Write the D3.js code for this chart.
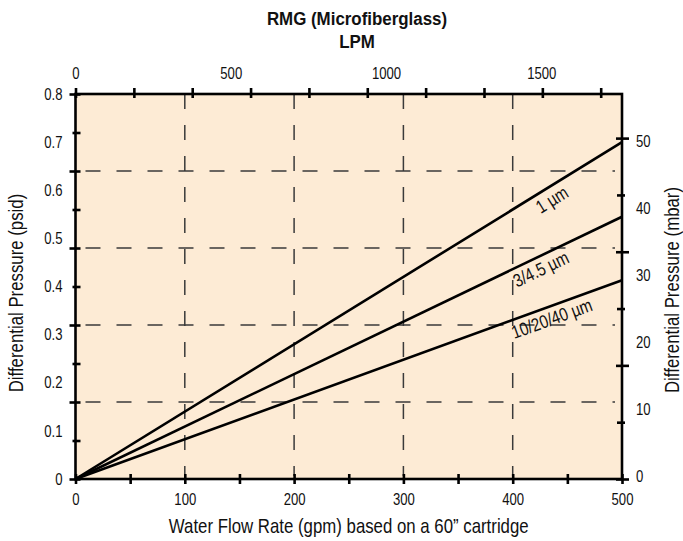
<!DOCTYPE html>
<html>
<head>
<meta charset="utf-8">
<script src="https://cdn.jsdelivr.net/npm/d3@7"></script>
<style>
  body { margin: 0; background: #ffffff; }
  svg text { font-family: "Liberation Sans", Arial, Helvetica, sans-serif; fill: #111; }
</style>
</head>
<body>
<svg id="chart" width="683" height="541"></svg>
<script>
// Pressure drop vs. flow for RMG microfiberglass cartridges (60" length)
const flowGpm = [0, 500];
const seriesNames = ["1 µm", "3/4.5 µm", "10/20/40 µm"];
const seriesPsid = [
  [0, 0.70],
  [0, 0.545],
  [0, 0.413]
];

// Axis ticks and labels
const gpmTicks = [0, 50, 100, 150, 200, 250, 300, 350, 400, 450, 500];
const gpmLabels = [0, 100, 200, 300, 400, 500];
const psidTicks = [0, 0.08, 0.16, 0.24, 0.32, 0.4, 0.48, 0.56, 0.64, 0.72, 0.8];
const psidLabels = [0, 0.1, 0.2, 0.3, 0.4, 0.5, 0.6, 0.7, 0.8];
const mbarTicks = [0, 8.5, 17, 25.5, 34, 42.5, 51];
const mbarLabels = [0, 10, 20, 30, 40, 50];
const lpmTicks = [0, 200, 400, 600, 800, 1000, 1200, 1400, 1600, 1800];
const lpmLabels = [0, 500, 1000, 1500];
const gridGpm = [100, 200, 300, 400];
const gridPsid = [0.16, 0.32, 0.48, 0.64];

const svg = d3.select("#chart");
const pLeft = 75.5, pRight = 622, pTop = 94, pBottom = 479;
const NARROW = 0.82;   // horizontal squeeze giving a condensed face

const x = d3.scaleLinear().domain([0, 500]).range([pLeft, pRight]);
const y = d3.scaleLinear().domain([0, 0.8]).range([pBottom, pTop]);
const yMbar = d3.scaleLinear().domain([0, 57.6]).range([pBottom, pTop]);
const xLpm = d3.scaleLinear().domain([0, 1873]).range([pLeft, pRight]);
const xLpmLabel = d3.scaleLinear().domain([0, 1760]).range([pLeft, pRight]);

// Plot background
svg.append("rect")
  .attr("x", pLeft).attr("y", pTop)
  .attr("width", pRight - pLeft).attr("height", pBottom - pTop)
  .attr("fill", "#FDEBD5");

// Dashed grid
const grid = svg.append("g").attr("stroke", "#3a3a3a").attr("stroke-width", 1.5)
  .attr("stroke-dasharray", "15,16").attr("fill", "none");
grid.selectAll(".gv").data(gridGpm).join("line")
  .attr("x1", d => x(d)).attr("x2", d => x(d))
  .attr("y1", pTop).attr("y2", pBottom - 3);
grid.selectAll(".gh").data(gridPsid).join("line")
  .attr("x1", pLeft + 10).attr("x2", pRight - 7)
  .attr("y1", d => y(d)).attr("y2", d => y(d));

// Curves
const line = d3.line().x(d => x(d[0])).y(d => y(d[1]));
svg.append("g").selectAll("path").data(seriesPsid).join("path")
  .attr("d", vals => line(vals.map((v, i) => [flowGpm[i], v])))
  .attr("fill", "none").attr("stroke", "#000").attr("stroke-width", 2.6);

// Curve labels, set just below each line and following its slope
const labelAtGpm = [430, 421, 432];
seriesPsid.forEach((vals, i) => {
  const g0 = flowGpm[0], g1 = flowGpm[flowGpm.length - 1];
  const ang = Math.atan2(y(vals[1]) - y(vals[0]), x(g1) - x(g0)) * 180 / Math.PI;
  const gAt = labelAtGpm[i];
  const v = vals[0] + (vals[1] - vals[0]) * (gAt - g0) / (g1 - g0);
  svg.append("text")
    .attr("transform", `translate(${x(gAt)},${y(v)}) rotate(${ang}) scale(${NARROW},1)`)
    .attr("text-anchor", "middle")
    .attr("dy", "1.0em")
    .attr("font-size", 18.5)
    .text(seriesNames[i]);
});

// Frame
svg.append("rect")
  .attr("x", pLeft).attr("y", pTop)
  .attr("width", pRight - pLeft).attr("height", pBottom - pTop)
  .attr("fill", "none").attr("stroke", "#000").attr("stroke-width", 2.6);

// Tick marks drawn with d3 axes, then stretched across the frame line
function styleTicks(g) {
  g.select(".domain").remove();
  g.selectAll(".tick line").attr("stroke", "#000").attr("stroke-width", 2.6);
  g.selectAll(".tick text").remove();
}

// Left (psid)
const gl = svg.append("g").attr("transform", `translate(${pLeft},0)`)
  .call(d3.axisLeft(y).tickValues(psidTicks).tickFormat(""));
styleTicks(gl);
gl.selectAll(".tick line")
  .attr("x1", (d, i) => i % 2 === 0 ? -6 : -3)
  .attr("x2", 5);

// Right (mbar)
const gr = svg.append("g").attr("transform", `translate(${pRight},0)`)
  .call(d3.axisRight(yMbar).tickValues(mbarTicks).tickFormat(""));
styleTicks(gr);
gr.selectAll(".tick line")
  .attr("x1", (d, i) => i % 2 === 0 ? -6 : -5)
  .attr("x2", (d, i) => i % 2 === 0 ? 7 : 3);

// Bottom (gpm)
const gb = svg.append("g").attr("transform", `translate(0,${pBottom})`)
  .call(d3.axisBottom(x).tickValues(gpmTicks).tickFormat(""));
styleTicks(gb);
gb.selectAll(".tick line").attr("y1", -5).attr("y2", 5);

// Top (LPM)
const gt = svg.append("g").attr("transform", `translate(0,${pTop})`)
  .call(d3.axisTop(xLpm).tickValues(lpmTicks).tickFormat(""));
styleTicks(gt);
gt.selectAll(".tick line").attr("y1", -6).attr("y2", 4);

// Tick labels
const lab = (g) => g.call(s => s.select(".domain").remove())
  .call(s => s.selectAll(".tick line").remove())
  .call(s => s.selectAll(".tick text")
    .attr("font-size", 16).attr("fill", "#111")
    .attr("transform", `scale(${NARROW},1)`));

svg.append("g").attr("transform", `translate(${pLeft - 13},0)`)
  .call(d3.axisLeft(y).tickValues(psidLabels).tickSize(0).tickPadding(0)
    .tickFormat(d => d === 0 ? "0" : d3.format(".1f")(d)))
  .call(lab);

svg.append("g").attr("transform", `translate(${pRight + 14},-3)`)
  .call(d3.axisRight(yMbar).tickValues(mbarLabels).tickSize(0).tickPadding(0)
    .tickFormat(d3.format("d")))
  .call(lab);

svg.append("g").attr("transform", `translate(0,${pBottom + 15})`)
  .call(d3.axisBottom(x).tickValues(gpmLabels).tickSize(0).tickPadding(0)
    .tickFormat(d3.format("d")))
  .call(lab);

svg.append("g").attr("transform", `translate(0,${pTop - 15})`)
  .call(d3.axisTop(xLpmLabel).tickValues(lpmLabels).tickSize(0).tickPadding(0)
    .tickFormat(d3.format("d")))
  .call(lab);

svg.selectAll("g").attr("font-family", null);

// Titles
function title(tx, ty, rot, size, weight, str) {
  svg.append("text")
    .attr("transform", `translate(${tx},${ty}) rotate(${rot}) scale(${weight === "bold" ? 0.89 : NARROW},1)`)
    .attr("text-anchor", "middle")
    .attr("font-size", size)
    .attr("font-weight", weight)
    .text(str);
}
title(357, 25, 0, 19, "bold", "RMG (Microfiberglass)");
title(357, 48, 0, 19, "bold", "LPM");
title((pLeft + pRight) / 2, 533, 0, 20.5, "normal", "Water Flow Rate (gpm) based on a 60\u201D cartridge");
title(23, 293, -90, 20.5, "normal", "Differential Pressure (psid)");
title(679, 290, -90, 20.5, "normal", "Differential Pressure (mbar)");
</script>
</body>
</html>
